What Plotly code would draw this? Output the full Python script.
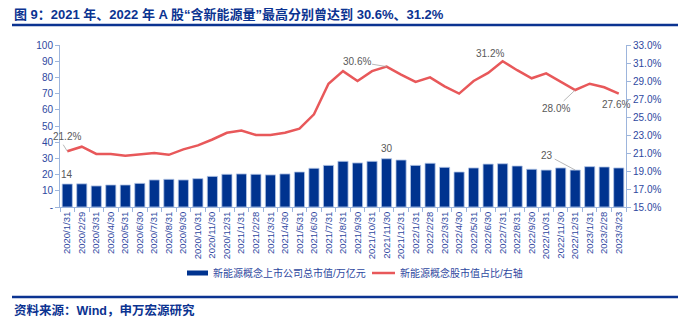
import plotly.graph_objects as go

dates = ["2020/1/31","2020/2/29","2020/3/31","2020/4/30","2020/5/31","2020/6/30","2020/7/31","2020/8/31",
         "2020/9/30","2020/10/31","2020/11/30","2020/12/31","2021/1/31","2021/2/28","2021/3/31","2021/4/30",
         "2021/5/31","2021/6/30","2021/7/31","2021/8/31","2021/9/30","2021/10/31","2021/11/30","2021/12/31",
         "2022/1/31","2022/2/28","2022/3/31","2022/4/30","2022/5/31","2022/6/30","2022/7/31","2022/8/31",
         "2022/9/30","2022/10/31","2022/11/30","2022/12/31","2023/1/31","2023/2/28","2023/3/23"]

market_cap = [14.2, 14.3, 13.0, 13.6, 13.6, 14.6, 16.7, 17.1, 16.7, 17.5, 18.9, 20.2, 20.4, 20.2, 19.8, 20.4,
              21.6, 23.9, 25.7, 28.2, 27.2, 28.2, 29.8, 29.0, 25.7, 27.0, 24.5, 21.6, 24.1, 26.5, 26.7, 25.3,
              23.3, 22.8, 24.1, 22.8, 24.9, 24.7, 24.1]

share_pct = [21.2, 21.7, 20.9, 20.9, 20.7, 20.85, 21.0, 20.8, 21.4, 21.85, 22.5, 23.25, 23.5, 23.0, 23.0, 23.25,
             23.7, 25.3, 28.7, 30.1, 29.0, 30.1, 30.6, 29.7, 28.9, 29.4, 28.4, 27.6, 29.0, 29.9, 31.2, 30.2,
             29.3, 29.85, 28.9, 28.0, 28.7, 28.3, 27.6]

left_ticks = [0, 10, 20, 30, 40, 50, 60, 70, 80, 90, 100]
left_ticktext = ["-", "10", "20", "30", "40", "50", "60", "70", "80", "90", "100"]

bar_name = "新能源概念上市公司总市值/万亿元"
line_name = "新能源概念股市值占比/右轴"
title_text = "图 9：2021 年、2022 年 A 股“含新能源量”最高分别曾达到 30.6%、31.2%"
source_text = "资料来源：Wind，申万宏源研究"

NAVY = "#0B3391"
BAR = "#00338F"
RED = "#E8585A"
AXIS = "#9DB5DC"
TICK = "#2E48A0"
GREY = "#595959"
FONT = "Liberation Sans, Arial, Noto Sans CJK SC, sans-serif"

fig = go.Figure()
fig.add_trace(go.Bar(x=dates, y=market_cap, name=bar_name, marker=dict(color=BAR, line=dict(color="#B4C7E7", width=0.8)),
                     yaxis="y", showlegend=False))
fig.add_trace(go.Scatter(x=dates, y=share_pct, name=line_name, mode="lines", line=dict(color=RED, width=2.5),
                         yaxis="y2", showlegend=False))

# plot area: x 60..626, y 45..207
L, R, T, B = 60, 626, 45, 207
W, H = R - L, B - T
def px(x):
    return (x - L) / W
def py(y):
    return (B - y) / H

annots = []
def ann(i, series, text, ax=None, ay=None, xs=0, ys=0, yref="y"):
    xv = dates[i]
    yv = series[i]
    if ax is None:
        annots.append(dict(x=xv, y=yv, xref="x", yref=yref, text=text, showarrow=False,
                           xshift=xs, yshift=ys, font=dict(size=10, color=GREY, family=FONT)))
    else:
        annots.append(dict(x=xv, y=yv, xref="x", yref=yref, text=text, showarrow=True, arrowhead=0,
                           arrowwidth=0.8, arrowcolor="#A6A6A6", ax=ax, ay=ay,
                           font=dict(size=10, color=GREY, family=FONT)))

ann(0, market_cap, "14", ys=10)
ann(22, market_cap, "30", ys=10)
ann(35, market_cap, "23", ax=-28, ay=-15)
ann(0, share_pct, "21.2%", xs=0, ys=15, yref="y2")
annots.append(dict(x=dates[0], y=share_pct[0], xref="x", yref="y2", text="", showarrow=True, arrowhead=0,
                   arrowwidth=0.8, arrowcolor="#A6A6A6", ax=-5, ay=-8))
ann(22, share_pct, "30.6%", ax=-30, ay=-5, yref="y2")
ann(30, share_pct, "31.2%", xs=-13, ys=8, yref="y2")
ann(35, share_pct, "28.0%", ax=-19, ay=18, yref="y2")
ann(38, share_pct, "27.6%", xs=-3, ys=-11, yref="y2")

# legend (manual)
leg_y = 273
annots.append(dict(x=px(211), y=py(leg_y), xref="paper", yref="paper", text=bar_name, showarrow=False,
                   xanchor="left", yanchor="middle", font=dict(size=10, color=TICK, family=FONT)))
annots.append(dict(x=px(398), y=py(leg_y), xref="paper", yref="paper", text=line_name, showarrow=False,
                   xanchor="left", yanchor="middle", font=dict(size=10, color=TICK, family=FONT)))
# title & source
annots.append(dict(x=px(12), y=py(14), xref="paper", yref="paper", text="<b>" + title_text + "</b>", showarrow=False,
                   xanchor="left", yanchor="middle", font=dict(size=13, color=NAVY, family=FONT)))
annots.append(dict(x=px(12), y=py(310), xref="paper", yref="paper", text="<b>" + source_text + "</b>", showarrow=False,
                   xanchor="left", yanchor="middle", font=dict(size=12.5, color=NAVY, family=FONT)))

shapes = [
    dict(type="line", xref="paper", yref="paper", x0=px(12), x1=px(678), y0=py(25), y1=py(25),
         line=dict(color=NAVY, width=2.5)),
    dict(type="line", xref="paper", yref="paper", x0=px(12), x1=px(678), y0=py(297), y1=py(297),
         line=dict(color=NAVY, width=2.5)),
    dict(type="rect", xref="paper", yref="paper", x0=px(187), x1=px(208), y0=py(leg_y + 2.5), y1=py(leg_y - 2.5),
         fillcolor=BAR, line=dict(width=0)),
    dict(type="line", xref="paper", yref="paper", x0=px(372), x1=px(395), y0=py(leg_y), y1=py(leg_y),
         line=dict(color=RED, width=2.5)),
]

fig.update_layout(
    width=691, height=326,
    margin=dict(l=L, r=691 - R, t=T, b=326 - B, autoexpand=False),
    paper_bgcolor="white", plot_bgcolor="white",
    font=dict(family=FONT, size=10, color=TICK),
    bargap=0.3,
    xaxis=dict(type="category", range=[-0.5, len(dates) - 0.5], autorange=False, automargin=False,
               tickangle=-90, showline=True, linecolor=AXIS, linewidth=1,
               ticks="outside", tickson="boundaries", ticklen=4, tickcolor=AXIS,
               tickfont=dict(size=9.5, color=TICK), showgrid=False, zeroline=False),
    yaxis=dict(range=[0, 100], automargin=False, tickvals=left_ticks, ticktext=left_ticktext, showline=True, linecolor=AXIS,
               ticks="outside", ticklen=4, tickcolor=AXIS, showgrid=False, zeroline=False,
               tickfont=dict(size=10, color=TICK)),
    yaxis2=dict(range=[15, 33], automargin=False, dtick=2, tick0=15, tickformat=".1f", ticksuffix="%", overlaying="y", side="right",
                showline=True, linecolor=AXIS, ticks="outside", ticklen=4, tickcolor=AXIS, showgrid=False,
                zeroline=False, tickfont=dict(size=10, color=TICK)),
    annotations=annots,
    shapes=shapes,
    showlegend=False,
)

fig.write_html("out.html")
